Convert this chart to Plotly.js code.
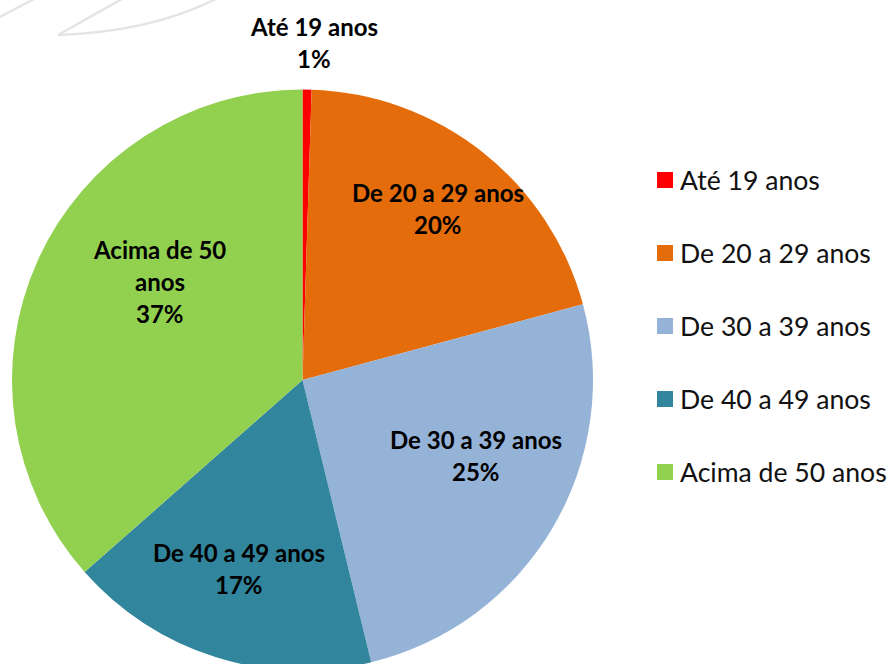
<!DOCTYPE html>
<html>
<head>
<meta charset="utf-8">
<script src="https://cdn.plot.ly/plotly-3.0.1.min.js"></script>
<style>
  html, body { margin: 0; padding: 0; width: 893px; height: 664px; overflow: hidden; background: #fff; }
  #chart { width: 893px; height: 680px; }
</style>
</head>
<body>
<div id="chart"></div>
<script>
// ---- data ----
const labels = ['Até 19 anos', 'De 20 a 29 anos', 'De 30 a 39 anos', 'De 40 a 49 anos', 'Acima de 50 anos'];
const values = [0.5, 20.3, 25.4, 17.3, 36.5];
const labelLines = [['Até 19 anos'], ['De 20 a 29 anos'], ['De 30 a 39 anos'], ['De 40 a 49 anos'], ['Acima de 50', 'anos']];

// ---- style / layout ----
const colors = ['#FF0000', '#E46C0A', '#95B3D7', '#31859C', '#92D050'];
const W = 893, H = 680;
const pieBox = { x0: 12, x1: 593, y0: 89.5, y1: 670.5 };   // px
const labelRadius = [1.161, 0.752, 0.651, 0.685, 0.596];     // fraction of radius
const labelAngleNudge = [1, 0, -7, 1, 10.3];                 // degrees
const lineGap = 32;
const FONT = 'Lato, "Open Sans", sans-serif';
const labelFont = { family: FONT, size: 24, color: '#000' };
const legendFont = { family: FONT, size: 26.6, color: '#111' };
const legend = { sq: 16, x: 657, textX: 678, y0: 180, gap: 73 };

const px = x => x / W;
const py = y => 1 - y / H;

const cx = (pieBox.x0 + pieBox.x1) / 2, cy = (pieBox.y0 + pieBox.y1) / 2;
const R = (pieBox.x1 - pieBox.x0) / 2;
const total = values.reduce((a, b) => a + b, 0);

const annotations = [];
const shapes = [];
let cum = 0;
values.forEach((v, i) => {
  const mid = (cum + v / 2) / total * 360 + labelAngleNudge[i];
  cum += v;
  const a = mid * Math.PI / 180;
  const bx = cx + Math.sin(a) * R * labelRadius[i];
  const by = cy - Math.cos(a) * R * labelRadius[i];
  const lines = labelLines[i].concat([Math.round(v / total * 100) + '%']);
  lines.forEach((t, j) => {
    const ly = by + (j - (lines.length - 1) / 2) * lineGap;
    annotations.push({
      text: '<b>' + t + '</b>', x: px(bx), y: py(ly), xref: 'paper', yref: 'paper',
      xanchor: 'center', yanchor: 'middle', showarrow: false, font: labelFont
    });
  });
});

// legend (drawn)
labels.forEach((l, i) => {
  const yc = legend.y0 + i * legend.gap;
  shapes.push({
    type: 'rect', xref: 'paper', yref: 'paper',
    x0: px(legend.x), x1: px(legend.x + legend.sq),
    y0: py(yc - legend.sq / 2), y1: py(yc + legend.sq / 2),
    fillcolor: colors[i], line: { width: 0 }
  });
  annotations.push({
    text: l, x: px(legend.textX), y: py(yc), xref: 'paper', yref: 'paper',
    xanchor: 'left', yanchor: 'middle', showarrow: false, font: legendFont
  });
});

// faint watermark strokes
const wm = { color: '#e4e4e4', width: 2.5 };
const P = (x, y) => px(x).toFixed(5) + ',' + py(y).toFixed(5);
shapes.push({ type: 'path', xref: 'paper', yref: 'paper', path: 'M' + P(-2, 18) + ' L' + P(34, -1), line: wm });
shapes.push({ type: 'path', xref: 'paper', yref: 'paper', path: 'M' + P(58, 35) + ' L' + P(122, -1), line: wm });
shapes.push({ type: 'path', xref: 'paper', yref: 'paper', path: 'M' + P(58, 35) + ' Q' + P(150, 32) + ' ' + P(216, -1), line: wm });

const trace = {
  type: 'pie',
  labels: labels,
  values: values,
  sort: false,
  direction: 'clockwise',
  rotation: 0,
  marker: { colors: colors, line: { width: 0 } },
  textinfo: 'none',
  hoverinfo: 'none',
  showlegend: false,
  domain: { x: [px(pieBox.x0), px(pieBox.x1)], y: [py(pieBox.y1), py(pieBox.y0)] }
};

Plotly.newPlot('chart', [trace], {
  width: W, height: H,
  margin: { l: 0, r: 0, t: 0, b: 0 },
  paper_bgcolor: '#fff',
  showlegend: false,
  annotations: annotations,
  shapes: shapes
}, { displayModeBar: false, staticPlot: true });
</script>
</body>
</html>
